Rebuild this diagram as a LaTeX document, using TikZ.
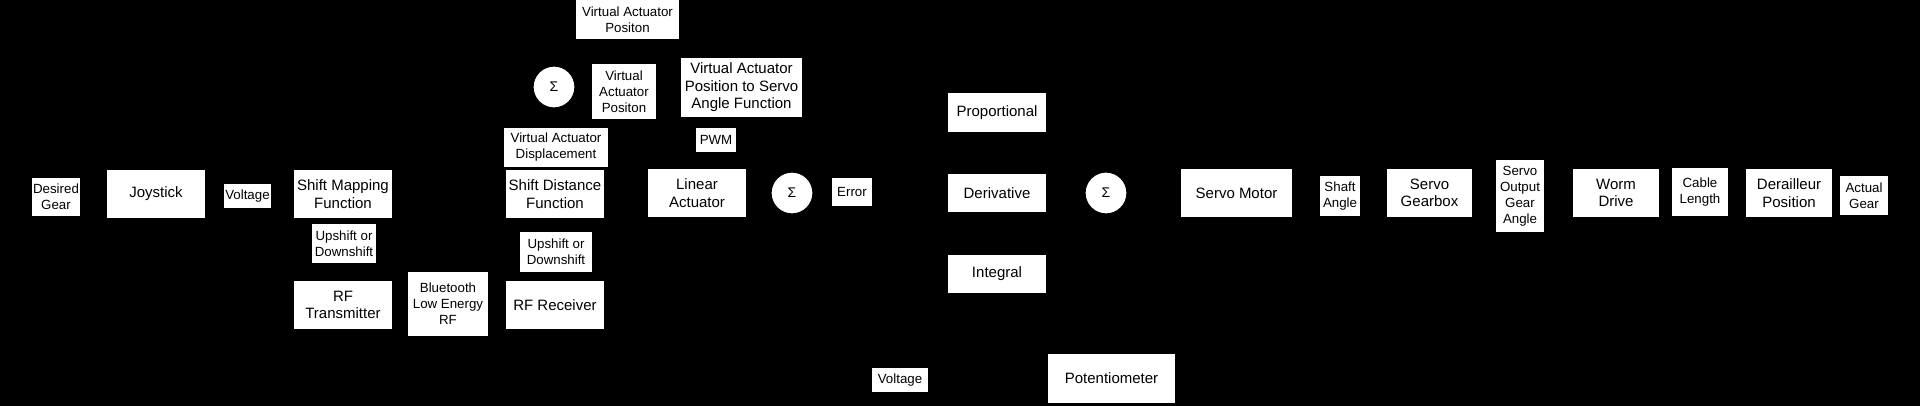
\documentclass[tikz,border=0pt]{standalone}
\usepackage{fontspec}
\setmainfont{Liberation Sans}
\usetikzlibrary{arrows.meta}
\tikzset{
 blk/.style={draw=black, line width=1.2pt, fill=white, align=center, inner sep=0pt, font=\fontsize{15}{17.5}\selectfont},
 lbl/.style={fill=white, align=center, inner sep=0pt, font=\fontsize{13.3}{16}\selectfont},
 sig/.style={circle, draw=black, line width=1.2pt, fill=white, minimum size=42pt, inner sep=0pt, font=\fontsize{14}{16}\selectfont},
 conn/.style={draw=black, line width=1pt, -{Latex[length=6pt]}},
 plain/.style={draw=black, line width=1pt},
}
\begin{document}
\begin{tikzpicture}[x=1pt,y=-1pt]
\fill[black] (0,0) rectangle (1920,406);
\useasboundingbox (0,0) rectangle (1920,406);
% blocks
\node[blk, minimum width=100pt, minimum height=50pt] (joy) at (156,194) {Joystick};
\node[blk, minimum width=100pt, minimum height=50pt] (smf) at (343,194) {Shift Mapping\\Function};
\node[blk, minimum width=100pt, minimum height=50pt] (rft) at (343,305) {RF\\Transmitter};
\node[blk, minimum width=100pt, minimum height=50pt] (rfr) at (555,305) {RF Receiver};
\node[blk, minimum width=100pt, minimum height=50pt] (sdf) at (555,194) {Shift Distance\\Function};
\node[blk, minimum width=122pt, minimum height=60pt] (vap) at (741.5,87.5) {Virtual Actuator\\Position to Servo\\Angle Function};
\node[blk, minimum width=100pt, minimum height=50pt] (la) at (697,193) {Linear\\Actuator};
\node[blk, minimum width=100pt, minimum height=40pt] (prop) at (997,112.5) {Proportional};
\node[blk, minimum width=100pt, minimum height=40pt] (deriv) at (997,193) {Derivative};
\node[blk, minimum width=100pt, minimum height=40pt] (integ) at (997,274) {Integral};
\node[blk, minimum width=113pt, minimum height=50pt] (servo) at (1236.5,193) {Servo Motor};
\node[blk, minimum width=87pt, minimum height=50pt] (sgb) at (1429.5,193) {Servo\\Gearbox};
\node[blk, minimum width=88pt, minimum height=50pt] (worm) at (1616,193) {Worm\\Drive};
\node[blk, minimum width=87pt, minimum height=50pt] (der) at (1789,193) {Derailleur\\Position};
\node[blk, minimum width=129pt, minimum height=50pt] (pot) at (1111.5,378.5) {Potentiometer};
% summing junctions
\node[sig] (s1) at (554,87) {Σ};
\node[sig] (s2) at (792,193) {Σ};
\node[sig] (s3) at (1106,193) {Σ};
% free ends
\coordinate (start) at (22,196);
\coordinate (finish) at (1900,196);
\coordinate (split) at (910,193);
% connectors
\draw[conn] (start) -- (joy.west);
\draw[conn] (joy.east) -- (smf.west);
\draw[conn] (smf.south) -- (rft.north);
\draw[conn] (rft.east) -- (rfr.west);
\draw[conn] (rfr.north) -- (sdf.south);
\draw[conn] (sdf.north) -- (s1.south);
\draw[conn] (s1.east) -- (vap.west);
\draw[conn] (vap.north) |- (627,20) -| (s1.north);
\draw[conn] (vap.south) -- ++(0,18) -| (la.north);
\draw[conn] (la.east) -- (s2.west);
\draw[plain] (s2.east) -- (split);
\draw[conn] (split) |- (prop.west);
\draw[conn] (split) -- (deriv.west);
\draw[conn] (split) |- (integ.west);
\draw[conn] (prop.east) -| (s3.north);
\draw[conn] (deriv.east) -- (s3.west);
\draw[conn] (integ.east) -| (s3.south);
\draw[conn] (s3.east) -- (servo.west);
\draw[conn] (servo.east) -- (sgb.west);
\draw[conn] (sgb.east) -- (worm.west);
\draw[conn] (worm.east) -- (der.west);
\draw[conn] (der.east) -- (finish);
\draw[conn] (pot.west) -| (s2.south);
% connector labels
\node[lbl, minimum width=48pt, minimum height=38pt] (lDes) at (56,197) {Desired\\Gear};
\node[lbl, minimum width=47pt, minimum height=24pt] (lV1) at (247.5,196) {Voltage};
\node[lbl, minimum width=64pt, minimum height=39pt] (lUp1) at (344,243.5) {Upshift or\\Downshift};
\node[lbl, minimum width=80pt, minimum height=64pt] (lBLE) at (448,304) {Bluetooth\\Low Energy\\RF};
\node[lbl, minimum width=72pt, minimum height=40pt] (lUp2) at (556,252) {Upshift or\\Downshift};
\node[lbl, minimum width=104pt, minimum height=39pt] (lVAD) at (556,147.5) {Virtual Actuator\\Displacement};
\node[lbl, minimum width=103pt, minimum height=39pt] (lVAP1) at (627.5,19.5) {Virtual Actuator\\Positon};
\node[lbl, minimum width=64pt, minimum height=55pt] (lVAP2) at (624,91.5) {Virtual\\Actuator\\Positon};
\node[lbl, minimum width=40pt, minimum height=24pt] (lPWM) at (716,140) {PWM};
\node[lbl, minimum width=40pt, minimum height=28pt] (lErr) at (852,192) {Error};
\node[lbl, minimum width=40pt, minimum height=40pt] (lShaft) at (1340,196) {Shaft\\Angle};
\node[lbl, minimum width=48pt, minimum height=72pt] (lSOGA) at (1520,196) {Servo\\Output\\Gear\\Angle};
\node[lbl, minimum width=56pt, minimum height=48pt] (lCable) at (1700,192) {Cable\\Length};
\node[lbl, minimum width=48pt, minimum height=39pt] (lAct) at (1864,195.5) {Actual\\Gear};
\node[lbl, minimum width=56pt, minimum height=24pt] (lV2) at (900,380) {Voltage};
\end{tikzpicture}
\end{document}
